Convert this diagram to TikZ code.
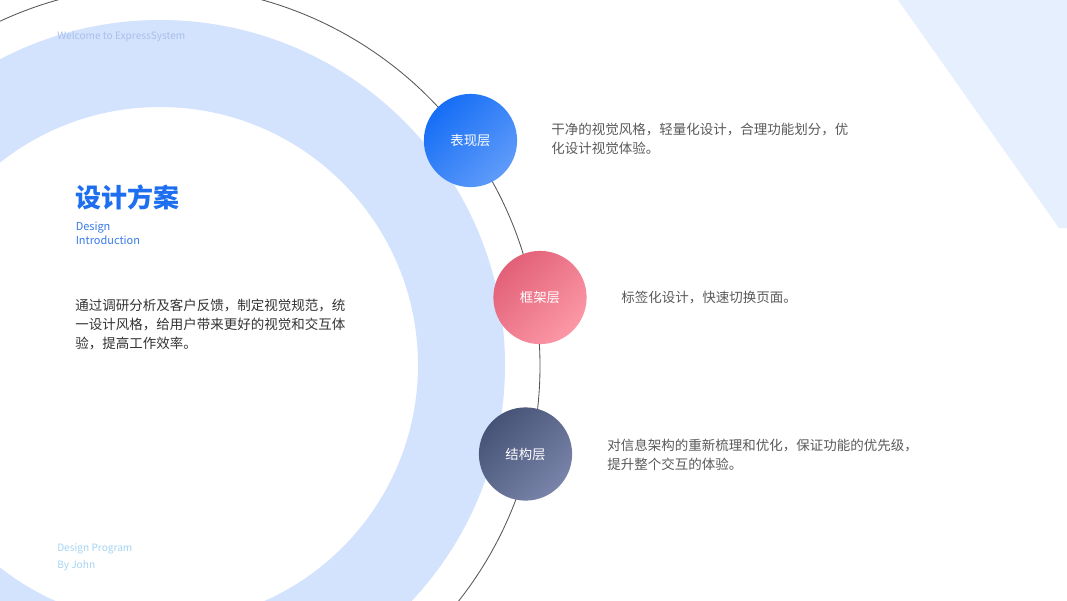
\documentclass[tikz,border=0pt]{standalone}
\usepackage{fontspec}
\setmainfont{Noto Sans CJK SC}
\usepackage{xcolor}
\usetikzlibrary{positioning}

\definecolor{ringblue}{RGB}{211,227,253}
\definecolor{triblue}{RGB}{229,239,254}
\definecolor{arcgray}{RGB}{85,85,85}
\definecolor{titleblue}{RGB}{30,110,240}
\definecolor{subblue}{RGB}{58,123,232}
\definecolor{welcomeblue}{RGB}{168,191,234}
\definecolor{skyblue}{RGB}{166,212,242}
\definecolor{bodygray}{RGB}{51,51,51}
\definecolor{descgray}{RGB}{90,90,90}

\begin{document}
\begin{tikzpicture}[x=0.025cm, y=-0.025cm,
    layer/.style={circle, minimum size=2.33cm, inner sep=0pt, text=white, font=\fontsize{9.5}{11}\selectfont, top color=#1A, bottom color=#1B, shading angle=45},
    desc/.style={anchor=base west, inner sep=0pt, align=left, text=descgray, font=\fontsize{9.6}{13.3}\selectfont},
    note/.style={anchor=base west, inner sep=0pt, align=left, font=\fontsize{7.2}{11.4}\selectfont}
]
\definecolor{presA}{RGB}{22,110,245}
\definecolor{presB}{RGB}{95,155,250}
\definecolor{frameA}{RGB}{226,96,120}
\definecolor{frameB}{RGB}{252,152,167}
\definecolor{structA}{RGB}{70,82,118}
\definecolor{structB}{RGB}{122,132,170}

\useasboundingbox (0,0) rectangle (1067,600);
\fill[white] (0,0) rectangle (1067,600);
\clip (0,0) rectangle (1067,600);

% Background shapes
\fill[triblue] (898,0) -- (1067,0) -- (1067,228) -- (1059,228) -- cycle;
\fill[ringblue, even odd rule] (160,365) circle[radius=345] (160,365) circle[radius=258];
\draw[arcgray, line width=0.6pt] (160,366) circle[radius=380];

% Left column (multi-line nodes sit on their last baseline)
\node[note, text=welcomeblue] (welcome) at (57,39.5) {Welcome to ExpressSystem};
\node[anchor=base west, inner sep=0pt, text=titleblue, font=\fontsize{18.5}{22}\selectfont\bfseries] (title) at (75,207) {设计方案};
\node[note, text=subblue, font=\fontsize{7.8}{9.3}\selectfont] (sub) at (75.5,244) {Design\\Introduction};
\node[desc, text=bodygray] (intro) at (75,348) {通过调研分析及客户反馈，制定视觉规范，统\\一设计风格，给用户带来更好的视觉和交互体\\验，提高工作效率。};
\node[note, text=skyblue] (credit) at (57,568) {Design Program\\By John};

% Layers
\node[layer=pres] (pres) at (470.5,140.5) {表现层};
\node[layer=frame] (frame) at (540,297.5) {框架层};
\node[layer=struct] (struct) at (525.5,454) {结构层};

% Descriptions
\node[desc] (presdesc) at (551,153) {干净的视觉风格，轻量化设计，合理功能划分，优\\化设计视觉体验。};
\node[desc] (framedesc) at (621,302) {标签化设计，快速切换页面。};
\node[desc] (structdesc) at (607,469) {对信息架构的重新梳理和优化，保证功能的优先级，\\提升整个交互的体验。};
\end{tikzpicture}
\end{document}
